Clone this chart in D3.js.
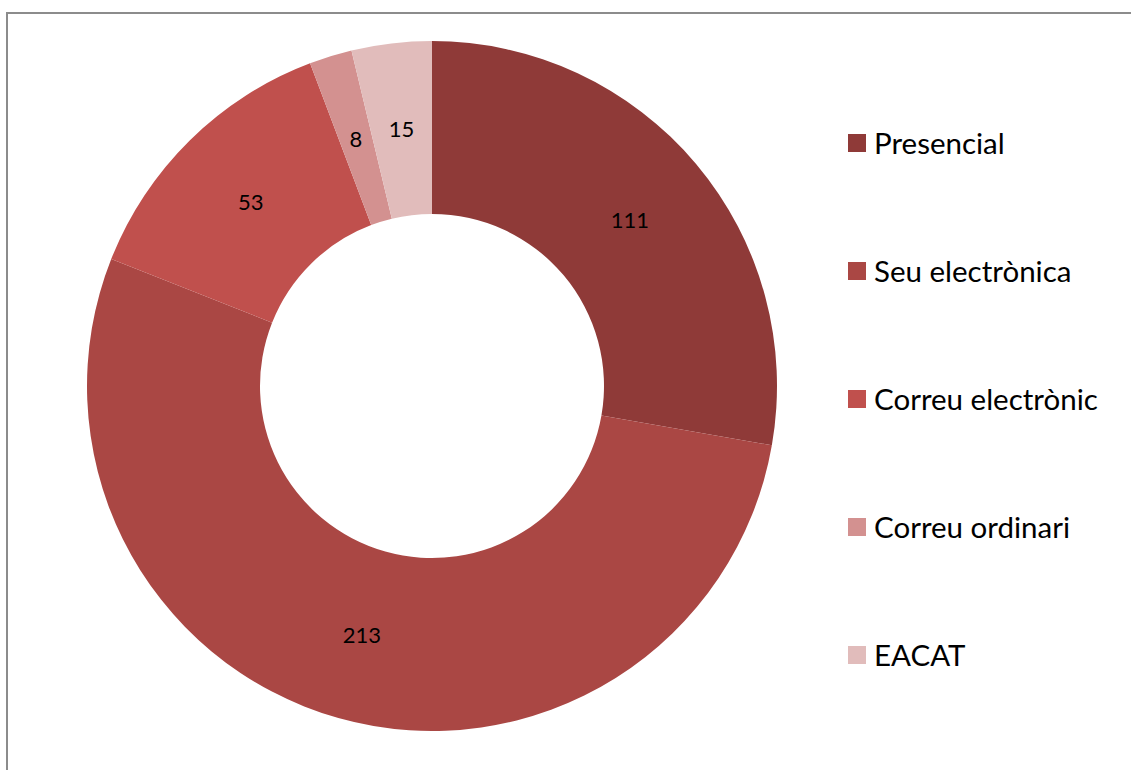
<!DOCTYPE html>
<html>
<head>
<meta charset="utf-8">
<script src="https://cdn.jsdelivr.net/npm/d3@7"></script>
<style>
  body { margin: 0; background: #fff; }
  svg { display: block; font-family: Lato, "Open Sans", sans-serif; }
</style>
</head>
<body>
<svg id="chart" width="1131" height="770"></svg>
<script>
// Canales de entrada (donut)
const categories = ["Presencial", "Seu electrònica", "Correu electrònic", "Correu ordinari", "EACAT"];
const values = [111, 213, 53, 8, 15];
const colors = ["#8f3a38", "#aa4744", "#c0504d", "#d39190", "#e1bcbb"];

const svg = d3.select("#chart");
const width = 1131, height = 770;

// marco gris del gráfico
svg.append("rect")
  .attr("x", 7).attr("y", 13)
  .attr("width", width + 10).attr("height", height + 10)
  .attr("fill", "none")
  .attr("stroke", "#8c8c8c")
  .attr("stroke-width", 2);

const cx = 432, cy = 386;
const outerR = 345, innerR = 172;

const pie = d3.pie().sort(null).value(d => d.value);
const arc = d3.arc().innerRadius(innerR).outerRadius(outerR);
const labelArc = d3.arc().innerRadius((innerR + outerR) / 2).outerRadius((innerR + outerR) / 2);

const data = categories.map((c, i) => ({ name: c, value: values[i] }));
const color = d3.scaleOrdinal().domain(categories).range(colors);

const g = svg.append("g").attr("transform", `translate(${cx},${cy})`);

const slices = g.selectAll("g.slice")
  .data(pie(data))
  .enter().append("g").attr("class", "slice");

slices.append("path")
  .attr("d", arc)
  .attr("fill", d => color(d.data.name));

slices.append("text")
  .attr("transform", d => `translate(${labelArc.centroid(d)})`)
  .attr("text-anchor", "middle")
  .attr("dy", "0.36em")
  .attr("font-size", 22)
  .attr("fill", "#000")
  .text(d => d.data.value);

// leyenda
const legendY = d3.scalePoint().domain(categories).range([143, 655]);

const leg = svg.selectAll("g.leg")
  .data(categories)
  .enter().append("g").attr("class", "leg")
  .attr("transform", d => `translate(848,${legendY(d)})`);

leg.append("rect")
  .attr("x", 0).attr("y", -9)
  .attr("width", 18).attr("height", 18)
  .attr("fill", d => color(d));

leg.append("text")
  .attr("x", 26).attr("y", 0)
  .attr("dy", "0.36em")
  .attr("font-size", 29.5)
  .attr("fill", "#000")
  .text(d => d);
</script>
</body>
</html>
